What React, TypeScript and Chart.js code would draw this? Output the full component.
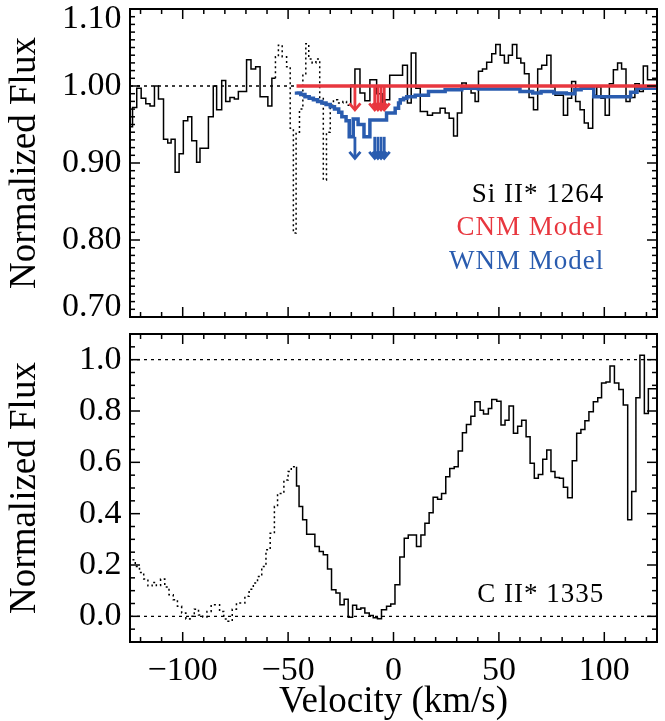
import React, { useEffect, useRef } from 'react';
import { Chart, registerables } from 'chart.js';

Chart.register(...registerables);

const SERIF = '"Liberation Serif", "Times New Roman", serif';
const RED = '#e8373f';
const BLUE = '#2a5caf';

// ---------- velocity axis ----------
const velocityMin = -125;
const velocityMax = 125;
const velocityTicks = [-100, -50, 0, 50, 100];
const velocityMinorStep = 10;

// ---------- top panel: Si II* 1264 ----------
const siFluxMin = 0.7;
const siFluxMax = 1.1;
const siFluxTicks = [0.7, 0.8, 0.9, 1.0, 1.1];
const siFluxMinorStep = 0.01;

// left bin edges (km/s) and flux levels of the histogram
const siVelocity = [
  -125, -123.8, -121.8, -119.7, -117.5, -115.5, -113.4, -111.5, -109.1, -107.1,
  -105.5, -103.6, -101.7, -99.7, -97.6, -95.7, -93.4, -91.8, -87.8, -85.5,
  -83.9, -81.5, -79.6, -77.6, -75.5, -73.6, -69.7, -67.6, -65.4, -63.3,
  -59.6, -57.7, -56.0, -54.6, -52.8, -50.7, -49.0, -47.5, -46.2, -44.6,
  -43.0, -41.6, -40.2, -38.6, -36.8, -35.0, -33.3, -31.8, -30.0, -28.5,
  -26.5, -24.0, -22.3, -20.3, -18.3, -15.9, -13.6, -11.2, -8.0, -5.4,
  -4.1, -1.8, 4.3, 6.6, 8.4, 10.6, 12.7, 16.1, 18.5, 22.1,
  24.5, 26.4, 28.5, 30.3, 32.4, 34.5, 36.8, 38.7, 40.3, 42.2,
  44.2, 46.6, 48.5, 50.6, 52.6, 54.5, 56.4, 58.5, 60.4, 62.1,
  64.3, 66.4, 68.4, 70.3, 72.7, 74.7, 76.6, 80.6, 82.6, 84.5,
  86.4, 88.5, 90.5, 92.4, 94.5, 96.4, 98.4, 100.4, 102.4, 104.3,
  106.3, 108.2, 110.3, 112.2, 114.5, 116.6, 118.5, 120.5, 122.4, 125.0,
];
const siFlux = [
  0.958, 0.947, 0.972, 0.997, 0.984, 0.977, 0.974, 1.0, 0.983, 0.931,
  0.926, 0.931, 0.888, 0.912, 0.955, 0.96, 0.929, 0.901, 0.919, 0.96,
  1.0, 0.969, 1.007, 0.98, 0.985, 0.983, 0.993, 1.034, 1.022, 1.025,
  0.986, 0.974, 1.01, 1.038, 1.053, 1.038, 1.025, 0.945, 0.809, 0.94,
  0.97, 1.016, 1.055, 1.035, 1.03, 1.035, 0.985, 0.878, 0.94, 0.975,
  0.982, 0.978, 0.98, 0.975, 1.001, 1.022, 0.991, 0.981, 1.008, 0.99,
  0.975, 0.982, 1.014, 1.027, 0.978, 1.043, 0.997, 0.967, 0.962, 0.965,
  0.971, 0.965, 0.958, 0.935, 0.965, 1.004, 0.997, 0.991, 0.98, 1.019,
  1.022, 1.031, 1.042, 1.054, 1.04, 1.03, 1.04, 1.054, 1.036, 1.03,
  1.016, 0.985, 0.969, 1.022, 1.027, 1.04, 0.999, 0.988, 0.962, 0.984,
  1.006, 0.98, 0.969, 0.952, 0.945, 0.988, 0.999, 0.984, 0.962, 1.003,
  1.021, 1.03, 1.022, 0.98, 0.985, 1.003, 0.993, 1.026, 1.008, 1.008,
];
const siDottedFrom = -56.0;
const siDottedTo = -20.3;

const wnmVelocity = [
  -46.0, -44.0, -42.0, -40.0, -38.0, -36.0, -34.0, -32.0, -30.0, -28.0,
  -26.0, -24.5, -22.5, -21.0, -19.1, -16.8, -14.0, -11.2, -3.3, 0.8,
  2.4, 3.2, 4.8, 6.3, 10.3, 16.6, 24.5, 32.4, 40.3, 60.0,
  66.0, 70.0, 76.0, 82.0, 86.0, 89.0, 95.0, 112.5, 115.5, 118.0, 125.0,
];
const wnmFlux = [
  0.993, 0.991, 0.989, 0.986, 0.984, 0.982, 0.98, 0.978, 0.976, 0.973,
  0.97, 0.966, 0.96, 0.955, 0.934, 0.957, 0.95, 0.934, 0.956, 0.965,
  0.971, 0.978, 0.982, 0.984, 0.986, 0.988, 0.993, 0.995, 0.997, 0.996,
  0.993, 0.991, 0.993, 0.991, 0.99, 0.995, 0.997, 0.986, 0.992, 0.997, 0.997,
];
const cnmVelocity = [-46.0, 125.0];
const cnmFlux = [1.0, 1.0];

const arrowVelocity = [-18.3, -8.9, -7.4, -5.9, -4.4];
const cnmArrowFrom = 1.0;
const cnmArrowTo = 0.969;
const wnmArrowFrom = 0.934;
const wnmArrowTo = 0.906;

const continuumVelocity = [-125, 125];
const continuumFlux = [1.0, 1.0];
const zeroFlux = [0.0, 0.0];

// ---------- bottom panel: C II* 1335 ----------
const ciiFluxMin = -0.1;
const ciiFluxMax = 1.1;
const ciiFluxTicks = [0.0, 0.2, 0.4, 0.6, 0.8, 1.0];
const ciiFluxMinorStep = 0.05;

const ciiVelocity = [
  -125, -122.5, -120.5, -118.5, -116.5, -114.5, -112.5, -110.5, -108.5, -106.5,
  -104.5, -102.5, -100.5, -98.5, -96.5, -94.5, -92.5, -90.5, -88.5, -86.5,
  -84.5, -82.5, -80.5, -78.5, -76.5, -74.5, -72.5, -70.5, -68.5, -66.5,
  -64.5, -62.5, -60.5, -58.5, -56.5, -55.0, -52.0, -50.0, -48.5, -47.2,
  -46.0, -44.8, -43.1, -41.2, -37.3, -35.2, -33.3, -31.3, -29.4, -27.3,
  -25.4, -23.4, -21.5, -19.4, -17.5, -15.5, -13.6, -11.5, -9.6, -7.6,
  -5.7, -3.3, -1.3, 0.7, 3.0, 5.1, 7.0, 10.9, 13.0, 14.9,
  16.9, 18.8, 20.9, 22.8, 24.8, 26.7, 28.8, 30.7, 32.7, 34.6,
  36.7, 38.6, 41.1, 42.7, 45.0, 46.6, 49.0, 51.0, 52.9, 54.8,
  56.9, 58.9, 60.8, 62.9, 64.8, 66.8, 68.7, 70.8, 72.7, 74.7,
  76.6, 78.7, 80.6, 82.6, 84.8, 86.9, 88.9, 90.8, 92.7, 94.8,
  96.9, 98.7, 100.8, 102.7, 104.8, 106.9, 109.0, 111.1, 113.0, 115.0,
  116.9, 119.0, 120.9, 122.5, 125.0,
];
const ciiFlux = [
  0.21, 0.22, 0.194, 0.171, 0.145, 0.119, 0.132, 0.12, 0.145, 0.114,
  0.084, 0.065, 0.039, 0.013, -0.01, 0.0, 0.028, 0.005, -0.003, 0.019,
  0.045, 0.045, 0.019, -0.01, -0.019, 0.028, 0.052, 0.052, 0.078, 0.106,
  0.13, 0.155, 0.194, 0.259, 0.324, 0.428, 0.479, 0.531, 0.564, 0.583,
  0.583, 0.508, 0.428, 0.376, 0.32, 0.272, 0.253, 0.24, 0.184, 0.104,
  0.091, 0.045, 0.067, -0.004, 0.043, 0.028, 0.032, 0.013, 0.003, -0.006,
  -0.009, 0.026, 0.039, 0.048, 0.123, 0.231, 0.304, 0.317, 0.272, 0.317,
  0.363, 0.404, 0.464, 0.456, 0.479, 0.544, 0.576, 0.583, 0.644, 0.715,
  0.747, 0.78, 0.836, 0.803, 0.788, 0.81, 0.845, 0.838, 0.745, 0.764,
  0.819, 0.713, 0.741, 0.764, 0.7, 0.596, 0.538, 0.553, 0.612, 0.648,
  0.564, 0.541, 0.538, 0.503, 0.462, 0.606, 0.713, 0.728, 0.762, 0.797,
  0.836, 0.852, 0.909, 0.913, 0.975, 0.909, 0.884, 0.823, 0.376, 0.486,
  0.852, 1.017, 0.79, 0.887, 0.887,
];
const ciiSolidFrom = -46.0;

// ---------- helpers ----------
const pts = (xs: number[], ys: number[]) => xs.map((x, i) => ({ x, y: ys[i] }));

type Note = { text: string; color: string; x: number; y: number };
type Decor = {
  id: string;
  yTicks: number[];
  yMinorStep: number;
  yDecimals: number;
  clampLabels: boolean;
  xLabels: boolean;
  notes: Note[];
  arrows: { x: number[]; from: number; to: number; color: string }[];
};

function isMajor(list: number[], v: number, step: number) {
  return list.some((t) => Math.abs(t - v) < step / 10);
}

function decorPlugin(d: Decor) {
  return {
    id: d.id,
    afterDatasetsDraw(chart: any) {
      const { ctx } = chart;
      const xs = chart.scales.x;
      const ys = chart.scales.y;
      d.arrows.forEach((a) => {
        ctx.save();
        ctx.strokeStyle = a.color;
        ctx.lineWidth = 2.8;
        ctx.lineJoin = 'miter';
        a.x.forEach((v) => {
          const px = xs.getPixelForValue(v);
          const y1 = ys.getPixelForValue(a.from);
          const y2 = ys.getPixelForValue(a.to);
          ctx.beginPath();
          ctx.moveTo(px, y1);
          ctx.lineTo(px, y2);
          ctx.stroke();
          ctx.beginPath();
          ctx.moveTo(px - 5.5, y2 - 6.5);
          ctx.lineTo(px, y2);
          ctx.lineTo(px + 5.5, y2 - 6.5);
          ctx.stroke();
        });
        ctx.restore();
      });
    },
    afterDraw(chart: any) {
      const { ctx } = chart;
      const xs = chart.scales.x;
      const ys = chart.scales.y;
      const { left, right, top, bottom } = chart.chartArea;
      ctx.save();
      ctx.strokeStyle = '#000';
      ctx.lineWidth = 1.5;
      const line = (x1: number, y1: number, x2: number, y2: number) => {
        ctx.beginPath();
        ctx.moveTo(x1, y1);
        ctx.lineTo(x2, y2);
        ctx.stroke();
      };
      // x ticks (inward, bottom and top)
      const kx0 = Math.ceil(xs.min / velocityMinorStep - 1e-9);
      const kx1 = Math.floor(xs.max / velocityMinorStep + 1e-9);
      for (let k = kx0; k <= kx1; k++) {
        const v = k * velocityMinorStep;
        const len = isMajor(velocityTicks, v, velocityMinorStep) ? 10 : 5;
        const px = xs.getPixelForValue(v);
        line(px, bottom, px, bottom - len);
        line(px, top, px, top + len);
      }
      // y ticks (inward, left and right)
      const ky0 = Math.ceil(ys.min / d.yMinorStep - 1e-6);
      const ky1 = Math.floor(ys.max / d.yMinorStep + 1e-6);
      for (let k = ky0; k <= ky1; k++) {
        const v = k * d.yMinorStep;
        const len = isMajor(d.yTicks, v, d.yMinorStep) ? 10 : 5;
        const py = ys.getPixelForValue(v);
        line(left, py, left + len, py);
        line(right, py, right - len, py);
      }
      ctx.lineWidth = 2;
      ctx.strokeRect(left, top, right - left, bottom - top);

      // tick labels
      ctx.fillStyle = '#000';
      ctx.font = `34px ${SERIF}`;
      ctx.textAlign = 'right';
      ctx.textBaseline = 'middle';
      d.yTicks.forEach((v) => {
        let py = ys.getPixelForValue(v);
        if (d.clampLabels) py = Math.min(Math.max(py, top + 10), bottom - 10);
        ctx.fillText(v.toFixed(d.yDecimals), left - 8.5, py);
      });
      if (d.xLabels) {
        ctx.textAlign = 'center';
        ctx.textBaseline = 'alphabetic';
        velocityTicks.forEach((v) => {
          const label = v < 0 ? '\u2212' + Math.abs(v) : String(v);
          ctx.fillText(label, xs.getPixelForValue(v), bottom + 38);
        });
      }
      // annotations
      ctx.font = `27px ${SERIF}`;
      (ctx as any).letterSpacing = '1px';
      ctx.textAlign = 'right';
      ctx.textBaseline = 'middle';
      d.notes.forEach((n) => {
        ctx.fillStyle = n.color;
        ctx.fillText(n.text, xs.getPixelForValue(n.x), ys.getPixelForValue(n.y));
      });
      ctx.restore();
    },
  };
}

const yTitle = (text: string) => ({
  display: true,
  text,
  color: '#000',
  font: { family: SERIF, size: 37, lineHeight: 1 },
  padding: { top: 6.5, bottom: 0 },
});

const dotted = [2, 3];

function topConfig(): any {
  return {
    type: 'line',
    data: {
      datasets: [
        {
          data: pts(continuumVelocity, continuumFlux),
          borderColor: '#000',
          borderWidth: 1.3,
          borderDash: [3, 4],
          pointRadius: 0,
          order: 4,
        },
        {
          data: pts(siVelocity, siFlux),
          borderColor: '#000',
          borderWidth: 1.5,
          stepped: 'after',
          pointRadius: 0,
          order: 3,
          segment: {
            borderDash: (c: any) => {
              const v = siVelocity[c.p0DataIndex];
              return v >= siDottedFrom - 1e-6 && v < siDottedTo - 1e-6 ? dotted : undefined;
            },
          },
        },
        {
          data: pts(wnmVelocity, wnmFlux),
          borderColor: BLUE,
          borderWidth: 3.5,
          stepped: 'after',
          pointRadius: 0,
          order: 2,
        },
        {
          data: pts(cnmVelocity, cnmFlux),
          borderColor: RED,
          borderWidth: 3.5,
          pointRadius: 0,
          order: 1,
        },
      ],
    },
    options: {
      animation: false,
      responsive: false,
      events: [],
      layout: { padding: { top: 9, right: 8, bottom: 13, left: 0 } },
      plugins: { legend: { display: false }, tooltip: { enabled: false } },
      scales: {
        x: { type: 'linear', min: velocityMin, max: velocityMax, display: false },
        y: {
          type: 'linear',
          min: siFluxMin,
          max: siFluxMax,
          position: 'left',
          grid: { display: false, drawTicks: false },
          border: { display: false },
          ticks: { display: false },
          title: yTitle('Normalized Flux'),
          afterFit: (s: any) => {
            s.width = 130;
          },
        },
      },
    },
    plugins: [
      decorPlugin({
        id: 'topDecor',
        yTicks: siFluxTicks,
        yMinorStep: siFluxMinorStep,
        yDecimals: 2,
        clampLabels: true,
        xLabels: false,
        notes: [
          { text: 'Si II* 1264', color: '#000', x: 100, y: 0.859 },
          { text: 'CNM Model', color: RED, x: 100, y: 0.816 },
          { text: 'WNM Model', color: BLUE, x: 100, y: 0.772 },
        ],
        arrows: [
          { x: arrowVelocity, from: cnmArrowFrom, to: cnmArrowTo, color: RED },
          { x: arrowVelocity, from: wnmArrowFrom, to: wnmArrowTo, color: BLUE },
        ],
      }),
    ],
  };
}

function bottomConfig(): any {
  return {
    type: 'line',
    data: {
      datasets: [
        {
          data: pts(continuumVelocity, continuumFlux),
          borderColor: '#000',
          borderWidth: 1.3,
          borderDash: [3, 4],
          pointRadius: 0,
          order: 3,
        },
        {
          data: pts(continuumVelocity, zeroFlux),
          borderColor: '#000',
          borderWidth: 1.3,
          borderDash: [3, 4],
          pointRadius: 0,
          order: 2,
        },
        {
          data: pts(ciiVelocity, ciiFlux),
          borderColor: '#000',
          borderWidth: 1.5,
          stepped: 'after',
          pointRadius: 0,
          order: 1,
          segment: {
            borderDash: (c: any) =>
              ciiVelocity[c.p0DataIndex] < ciiSolidFrom - 1e-6 ? dotted : undefined,
          },
        },
      ],
    },
    options: {
      animation: false,
      responsive: false,
      events: [],
      layout: { padding: { top: 13, right: 8, bottom: 0, left: 0 } },
      plugins: { legend: { display: false }, tooltip: { enabled: false } },
      scales: {
        x: {
          type: 'linear',
          min: velocityMin,
          max: velocityMax,
          position: 'bottom',
          grid: { display: false, drawTicks: false },
          border: { display: false },
          ticks: { display: false },
          title: {
            display: true,
            text: 'Velocity (km/s)',
            color: '#000',
            font: { family: SERIF, size: 37, lineHeight: 1 },
            padding: { top: 0, bottom: 0 },
          },
          afterFit: (s: any) => {
            s.height = 79;
          },
        },
        y: {
          type: 'linear',
          min: ciiFluxMin,
          max: ciiFluxMax,
          position: 'left',
          grid: { display: false, drawTicks: false },
          border: { display: false },
          ticks: { display: false },
          title: yTitle('Normalized Flux'),
          afterFit: (s: any) => {
            s.width = 130;
          },
        },
      },
    },
    plugins: [
      decorPlugin({
        id: 'bottomDecor',
        yTicks: ciiFluxTicks,
        yMinorStep: ciiFluxMinorStep,
        yDecimals: 1,
        clampLabels: false,
        xLabels: true,
        notes: [{ text: 'C II* 1335', color: '#000', x: 100, y: 0.084 }],
        arrows: [],
      }),
    ],
  };
}

export default function App() {
  const topRef = useRef<HTMLCanvasElement>(null);
  const bottomRef = useRef<HTMLCanvasElement>(null);

  useEffect(() => {
    const top = new Chart(topRef.current as HTMLCanvasElement, topConfig());
    const bottom = new Chart(bottomRef.current as HTMLCanvasElement, bottomConfig());
    return () => {
      top.destroy();
      bottom.destroy();
    };
  }, []);

  return (
    <div style={{ position: 'fixed', left: 0, top: 0, width: 665, height: 721, background: '#fff' }}>
      <canvas
        ref={topRef}
        width={665}
        height={330}
        style={{ position: 'absolute', left: 0, top: 0, width: 665, height: 330 }}
      />
      <canvas
        ref={bottomRef}
        width={665}
        height={400}
        style={{ position: 'absolute', left: 0, top: 321, width: 665, height: 400 }}
      />
    </div>
  );
}
